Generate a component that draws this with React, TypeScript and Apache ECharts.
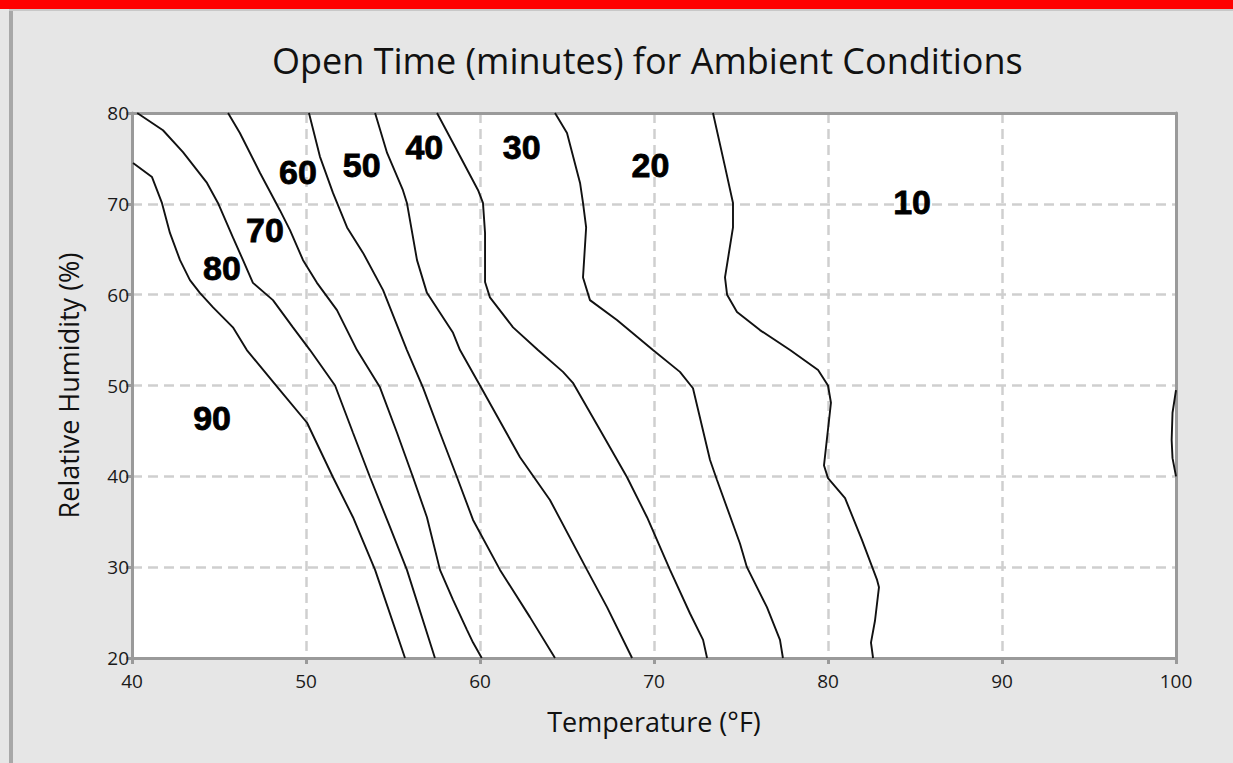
import React, { useEffect, useRef } from "react";
import * as echarts from "echarts";

const xTicks = [40, 50, 60, 70, 80, 90, 100];
const yTicks = [20, 30, 40, 50, 60, 70, 80];

const line1 = [[40.06,74.5],[41.15,72.95],[41.72,70.1],[42.18,66.8],[42.76,63.8],[43.33,61.6],[43.9,60.2],[44.66,58.6],[45.8,56.4],[46.6,53.9],[48.5,49.5],[50.06,45.9],[51.55,39.9],[52.7,35.5],[53.97,29.7],[55.69,20]];
const line2 = [[40.3,80],[41.78,78.1],[42.93,75.7],[44.31,72.3],[44.94,70.1],[45.8,66.3],[46.38,63.8],[46.95,61.3],[48.1,59.4],[49.25,56.4],[50.23,53.9],[51.67,50.0],[52.7,44.8],[53.68,39.9],[54.83,34.4],[55.8,29.7],[57.41,20]];
const line3 = [[45.52,80],[46.2,77.8],[47.36,73.4],[48.5,69.3],[49.08,67.1],[49.83,63.8],[50.63,61.3],[51.78,58.3],[52.93,53.9],[54.25,49.8],[55.23,44.8],[56.15,39.9],[56.95,35.5],[57.7,29.7],[58.45,26.4],[59.25,23.1],[59.6,21.7],[60.1,20]];
const line4 = [[50.17,80],[50.8,75.2],[51.55,71.2],[52.36,67.4],[53.28,64.6],[54.43,60.5],[55.8,53.9],[56.72,49.8],[57.7,44.8],[58.68,39.9],[59.6,35.2],[61.15,29.7],[62.87,24.5],[64.31,20]];
const line5 = [[53.97,80],[54.66,75.6],[55.57,71.5],[55.8,70.1],[56.38,63.8],[56.95,60.2],[58.45,55.8],[58.85,53.9],[60.0,50.0],[62.3,42.1],[64.02,37.4],[66.15,29.7],[67.3,25.6],[68.74,20]];
const line6 = [[57.53,80],[58.45,76.7],[59.89,71.5],[60.17,70.1],[60.29,66.8],[60.29,61.4],[60.57,59.7],[61.9,56.4],[63.33,53.9],[64.77,51.5],[65.34,50.3],[66.9,45.1],[68.45,39.9],[69.6,35.5],[70.92,29.7],[72.07,24.9],[72.82,22.0],[73.05,20]];
const line7 = [[64.31,80],[65.0,77.8],[65.75,72.3],[65.92,70.1],[66.1,67.4],[65.92,61.9],[66.32,59.4],[67.87,57.2],[69.94,53.9],[71.49,51.5],[72.24,49.7],[73.22,41.8],[73.62,39.6],[74.94,32.6],[75.34,30.0],[76.49,25.6],[77.24,22.0],[77.41,20]];
const line8 = [[73.39,80],[74.08,74.1],[74.54,70.1],[74.54,67.4],[74.08,61.9],[74.2,60.0],[74.77,58.1],[76.09,56.1],[77.82,53.9],[79.43,51.7],[80.0,50.0],[80.17,48.1],[79.77,41.2],[80.0,39.8],[80.98,37.6],[81.95,33.0],[82.82,28.6],[82.93,27.8],[82.7,24.1],[82.47,21.7],[82.59,20]];
const line9 = [[100,49.5],[99.8,47],[99.75,44],[99.8,42],[100,40]];

const contourLines = [line1, line2, line3, line4, line5, line6, line7, line8, line9];

const regionLabels = ["90", "80", "70", "60", "50", "40", "30", "20", "10"];
const labelX = [44.6, 45.17, 47.64, 49.54, 53.2, 56.8, 62.4, 69.8, 84.83];
const labelY = [46.4, 62.9, 67.1, 73.5, 74.3, 76.3, 76.3, 74.3, 70.2];

const FONT = "'Open Sans', 'Noto Sans', sans-serif";
const AXIS_GREY = "#9a9a9a";

export default function App() {
  const ref = useRef<HTMLDivElement>(null);
  useEffect(() => {
    if (!ref.current) return;
    const chart = echarts.init(ref.current, null, { renderer: "svg" });
    const lineSeries = contourLines.map((d, i) => ({
      type: "line",
      name: "c" + i,
      data: d,
      symbol: "none",
      smooth: false,
      clip: true,
      lineStyle: { color: "#111", width: 1.9 },
      silent: true,
      z: 3,
    }));
    const labelSeries = {
      type: "scatter",
      symbolSize: 0,
      itemStyle: { opacity: 1, color: "#000" },
      data: regionLabels.map((t, i) => ({ value: [labelX[i], labelY[i]], name: t })),
      label: {
        show: true,
        position: "inside",
        formatter: (p: any) => p.name,
        fontFamily: "'Liberation Sans', Arial, sans-serif",
        fontWeight: "bold",
        fontSize: 34,
        color: "#000",
        textBorderColor: "#000",
        textBorderWidth: 0.8,
        opacity: 1,
      },
      silent: true,
      z: 4,
    };
    const frameAxisCommon = {
      type: "value",
      min: xTicks[0],
      max: xTicks[xTicks.length - 1],
      axisLine: { show: true, onZero: false, lineStyle: { color: AXIS_GREY, width: 3 } },
      axisTick: { show: false },
      axisLabel: { show: false },
      splitLine: { show: false },
    };
    const gridDash = { color: "#cfcfcf", width: 2.5, type: [10, 6] };
    chart.setOption({
      animation: false,
      backgroundColor: "#e6e6e6",
      title: {
        text: "Open Time (minutes) for Ambient Conditions",
        left: 267,
        top: 37,
        textStyle: { fontFamily: FONT, fontSize: 36, fontWeight: "normal", color: "#111" },
      },
      grid: {
        left: 132,
        right: 57,
        top: 113,
        bottom: 105,
        show: true,
        backgroundColor: "#ffffff",
        borderColor: AXIS_GREY,
        borderWidth: 0,
      },
      xAxis: [
        {
          type: "value",
          min: xTicks[0],
          max: xTicks[xTicks.length - 1],
          interval: 10,
          name: "Temperature (°F)",
          nameLocation: "middle",
          nameGap: 50,
          nameTextStyle: { fontFamily: FONT, fontSize: 27, color: "#111" },
          axisLine: { show: true, onZero: false, lineStyle: { color: AXIS_GREY, width: 3 } },
          axisTick: { show: true, length: 6, lineStyle: { color: AXIS_GREY, width: 3 } },
          axisLabel: { fontFamily: FONT, fontSize: 19, color: "#1a1a1a", margin: 13 },
          splitLine: { show: true, lineStyle: gridDash },
        },
        { ...frameAxisCommon, position: "top" },
      ],
      yAxis: [
        {
          type: "value",
          min: yTicks[0],
          max: yTicks[yTicks.length - 1],
          interval: 10,
          name: "Relative Humidity (%)",
          nameLocation: "middle",
          nameGap: 50,
          nameTextStyle: { fontFamily: FONT, fontSize: 27, color: "#111" },
          axisLine: { show: true, onZero: false, lineStyle: { color: AXIS_GREY, width: 3 } },
          axisTick: { show: true, length: 6, lineStyle: { color: AXIS_GREY, width: 3 } },
          axisLabel: { fontFamily: FONT, fontSize: 19, color: "#1a1a1a", margin: 3 },
          splitLine: { show: true, lineStyle: gridDash },
        },
        { ...frameAxisCommon, min: yTicks[0], max: yTicks[yTicks.length - 1], position: "right" },
      ],
      graphic: [
        { type: "rect", shape: { x: 0, y: 0, width: 1233, height: 9 }, style: { fill: "#ff0000" }, z: 10 },
        { type: "rect", shape: { x: 9, y: 9, width: 4, height: 754 }, style: { fill: "#a8a8a8" }, z: 10 },
        { type: "rect", shape: { x: 9, y: 9, width: 1224, height: 2 }, style: { fill: "#c8c8c8" }, z: 10 },
      ],
      series: [...lineSeries, labelSeries],
    });
    return () => chart.dispose();
  }, []);
  return (
    <div
      ref={ref}
      style={{ position: "absolute", left: 0, top: 0, width: 1233, height: 763 }}
    />
  );
}
